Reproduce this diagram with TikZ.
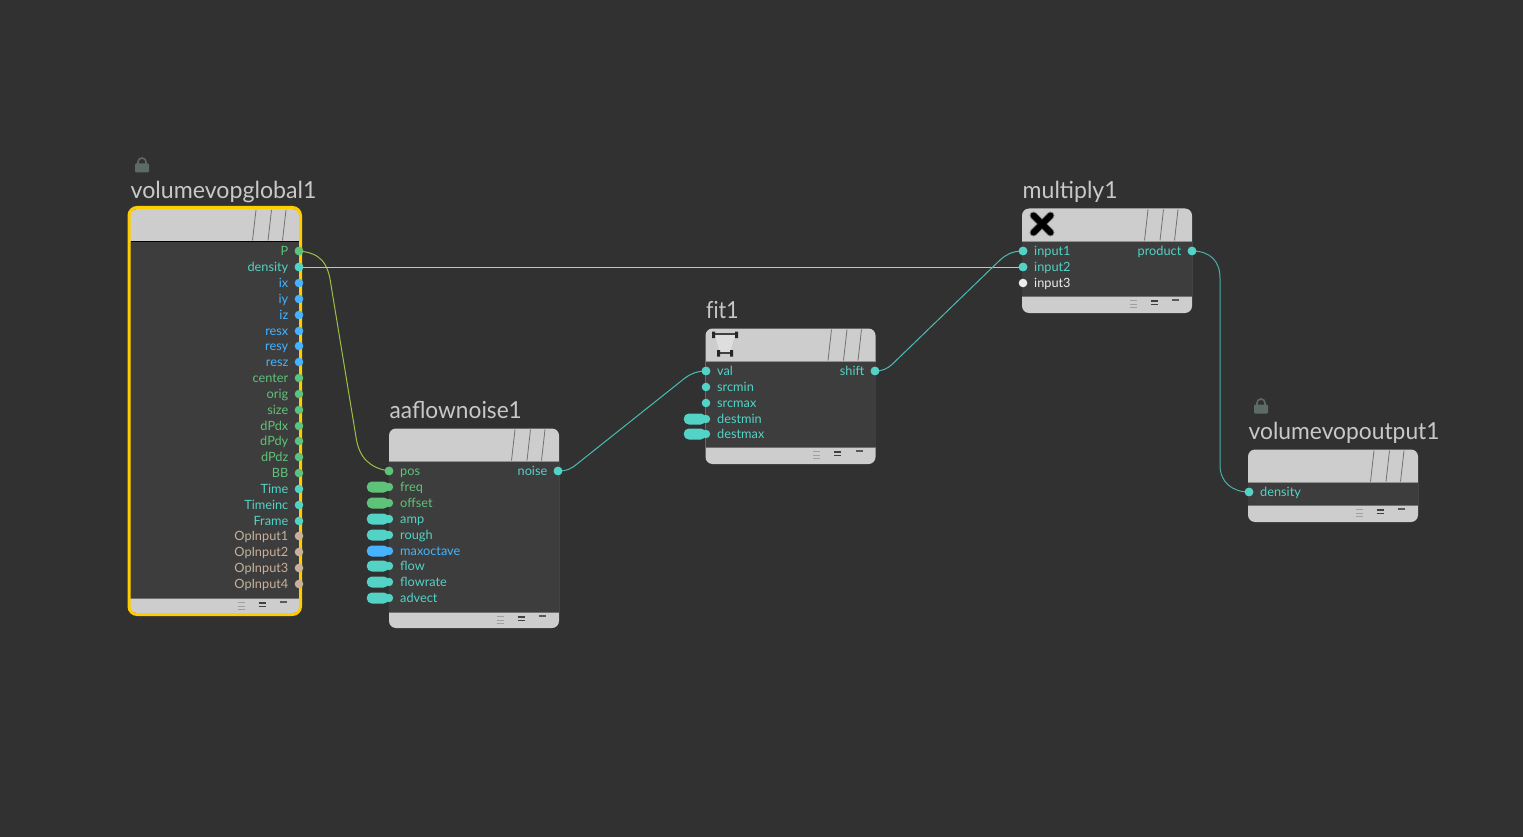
\documentclass[tikz,border=0pt]{standalone}
\usepackage{graphicx}
\usepackage{fontspec}
\setmainfont{Lato}
\usetikzlibrary{calc}
\definecolor{bgc}{HTML}{313131}
\definecolor{bodyc}{HTML}{3D3D3D}
\definecolor{hdrc}{HTML}{CDCDCD}
\definecolor{grn}{HTML}{5FC27A}
\definecolor{tea}{HTML}{53D2C6}
\definecolor{blu}{HTML}{45B3FF}
\definecolor{tanc}{HTML}{C8B09A}
\definecolor{wht}{HTML}{EDEDED}
\definecolor{lockc}{HTML}{5D6B68}
\definecolor{titlec}{HTML}{C8C8C8}
\definecolor{selc}{HTML}{FFCC00}
\definecolor{wireP}{HTML}{9CBF45}
\definecolor{wireD}{HTML}{A4DE80}
\definecolor{wireT}{HTML}{48BEB2}
\definecolor{wireU}{HTML}{48AFA5}
\definecolor{trap}{HTML}{DEDEDE}
\tikzset{
  vopshell/.style={rectangle,inner sep=0pt,rounded corners=7pt,fill=hdrc},
  slashline/.style={draw=black!45!hdrc,line width=0.8pt},
  wire/.style={line width=1pt},
  portdot/.style={circle,inner sep=0pt,minimum size=8.6pt},
  pill/.style={rectangle,rounded corners=5pt,inner sep=0pt,minimum width=22pt,minimum height=11pt},
  portlabel/.style={inner sep=0pt,font=\fontsize{12.75}{14}\selectfont},
  nodetitle/.style={inner sep=0pt,anchor=base west,text=titlec,font=\fontsize{23.5}{26}\selectfont},
}
\newcommand{\vop}[8]{% id x top hb ft bottom title hscale
  \pgfmathsetmacro{\xr}{#2+170}
  \pgfmathsetmacro{\xc}{#2+85}
  \pgfmathsetmacro{\yc}{(#3+#6)/2}
  \pgfmathsetmacro{\hh}{#6-#3}
  \node[vopshell,minimum width=170pt,minimum height=\hh pt] (#1) at (\xc,\yc) {};
  \fill[bodyc] (#2,#4) rectangle (\xr,#5);
  \draw[black!30!hdrc,line width=1pt] (#2,#4) -- (\xr,#4);
  \draw[black!45!hdrc,line width=0.6pt] (#2,#5) -- (\xr,#5);
  \foreach \oo in {0,15.5,30}{
    \pgfmathsetmacro{\sa}{#2+126+\oo}
    \pgfmathsetmacro{\sb}{#2+122.5+\oo}
    \draw[slashline] (\sa,#3+1) -- (\sb,#4-0.5);
  }
  \pgfmathsetmacro{\ia}{#2+107.5}\pgfmathsetmacro{\ib}{#2+114.5}
  \pgfmathsetmacro{\ic}{#2+128.5}\pgfmathsetmacro{\ie}{#2+135.5}
  \pgfmathsetmacro{\ig}{#2+150}\pgfmathsetmacro{\ih}{#2+157}
  \foreach \dd in {4.5,8,11.5}{\draw[black!22!hdrc,line width=1pt] (\ia,#5+\dd) -- (\ib,#5+\dd);}
  \foreach \dd in {5,8.5}{\draw[black!75,line width=1.1pt] (\ic,#5+\dd) -- (\ie,#5+\dd);}
  \draw[black!65,line width=1.3pt] (\ig,#5+4) -- (\ih,#5+4);
  \node[nodetitle] (#1-title) at (#2+0.5,#3-10) {\scalebox{#8}[1]{#7}};
}
\newcommand{\oport}[5]{% id x y colour label : output, label to the left
  \node[portdot,fill=#4] (#1) at (#2,#3) {};
  \node[portlabel,text=#4,anchor=base east] (#1-label) at ($(#1)+(-10.5,4.5)$) {#5};
}
\newcommand{\iport}[5]{% id x y colour label : input, label to the right
  \node[portdot,fill=#4] (#1) at (#2,#3) {};
  \node[portlabel,text=#4,anchor=base west] (#1-label) at ($(#1)+(11,4.5)$) {#5};
}
\newcommand{\pport}[5]{% pill input
  \node[pill,fill=#4,anchor=east] (#1) at (#2,#3) {};
  \fill[#4] (#2,#3) circle (4.2);
  \node[portlabel,text=#4,anchor=base west] (#1-label) at ($(#2,#3)+(11,4.5)$) {#5};
}
\newcommand{\lockicon}[3]{% id x y
  \draw[lockc,line width=1.6pt] (#2-4,#3+1) -- (#2-4,#3-3) arc (180:0:4 and -4) -- (#2+4,#3+1);
  \node[rectangle,rounded corners=1.2pt,inner sep=0pt,minimum width=14pt,minimum height=9pt,fill=lockc] (#1) at (#2,#3+3) {};
}
\begin{document}
\begin{tikzpicture}[x=1pt,y=-1pt]
\useasboundingbox (0,0) rectangle (1523,837);
\fill[bgc] (0,0) rectangle (1523,837);

\lockicon{lockA}{142}{165}
\lockicon{lockB}{1261}{406}

\vop{glob}{130}{209}{241}{598}{613}{volumevopglobal1}{0.985}
\vop{noise}{389}{428.5}{461}{612}{628}{aaflownoise1}{0.965}
\vop{fit}{705.5}{328.5}{361}{447}{464}{f\kern0pt it1}{0.9}
\vop{mult}{1022}{208.5}{241}{296}{313}{multiply1}{0.98}
\vop{out}{1248}{449.5}{482}{505}{522}{volumevopoutput1}{0.97}

% selection border
\draw[draw=selc,line width=3pt,rounded corners=8pt] (129,207.5) rectangle (300.5,614.5);
\draw[black,line width=1pt] (131,241) -- (299,241);

% global ports
\oport{gP}{299}{251}{grn}{P}
\oport{gdensity}{299}{267}{tea}{density}
\oport{gix}{299}{283}{blu}{ix}
\oport{giy}{299}{299}{blu}{iy}
\oport{giz}{299}{315}{blu}{iz}
\oport{gresx}{299}{331}{blu}{resx}
\oport{gresy}{299}{346}{blu}{resy}
\oport{gresz}{299}{362}{blu}{resz}
\oport{gcenter}{299}{378}{grn}{center}
\oport{gorig}{299}{394}{grn}{orig}
\oport{gsize}{299}{410}{grn}{size}
\oport{gdPdx}{299}{426}{grn}{dPdx}
\oport{gdPdy}{299}{441}{grn}{dPdy}
\oport{gdPdz}{299}{457}{grn}{dPdz}
\oport{gBB}{299}{473}{grn}{BB}
\oport{gTime}{299}{489}{tea}{Time}
\oport{gTimeinc}{299}{505}{tea}{Timeinc}
\oport{gFrame}{299}{521}{tea}{Frame}
\oport{gOpA}{299}{536}{tanc}{OpInput1}
\oport{gOpB}{299}{552}{tanc}{OpInput2}
\oport{gOpC}{299}{568}{tanc}{OpInput3}
\oport{gOpD}{299}{584}{tanc}{OpInput4}

% aaflownoise ports
\iport{npos}{389}{471}{grn}{pos}
\pport{nfreq}{389}{487}{grn}{freq}
\pport{noffset}{389}{503}{grn}{offset}
\pport{namp}{389}{519}{tea}{amp}
\pport{nrough}{389}{535}{tea}{rough}
\pport{nmaxoctave}{389}{551}{blu}{maxoctave}
\pport{nflow}{389}{566}{tea}{flow}
\pport{nflowrate}{389}{582}{tea}{flowrate}
\pport{nadvect}{389}{598}{tea}{advect}
\oport{nnoise}{558}{471}{tea}{noise}

% fit ports
\iport{fval}{706}{371}{tea}{val}
\iport{fsrcmin}{706}{387}{tea}{srcmin}
\iport{fsrcmax}{706}{403}{tea}{srcmax}
\pport{fdestmin}{706}{419}{tea}{destmin}
\pport{fdestmax}{706}{434}{tea}{destmax}
\oport{fshift}{875}{371}{tea}{shift}

% multiply ports
\iport{minputA}{1023}{251}{tea}{input1}
\iport{minputB}{1023}{267}{tea}{input2}
\iport{minputC}{1023}{283}{wht}{input3}
\oport{mproduct}{1192}{251}{tea}{product}

% output port
\iport{odensity}{1249}{492}{tea}{density}

% multiply icon
\begin{scope}[shift={(1042,224)},line cap=round]
  \draw[black!35!hdrc,line width=8pt] (-8.5,-8.5) -- (8.5,8.5) (8.5,-8.5) -- (-8.5,8.5);
  \draw[black,line width=6pt] (-8.5,-8.5) -- (8.5,8.5) (8.5,-8.5) -- (-8.5,8.5);
\end{scope}
% fit icon
\begin{scope}[shift={(725,344)}]
  \fill[trap] (-10,-9) -- (10,-9) -- (5,9) -- (-5,9) -- cycle;
  \draw[black!75,line width=1.2pt] (-11,-10) -- (11,-10) (-6.5,9) -- (6.5,9);
  \fill[black!85] (-13,-12.5) rectangle (-10,-6) (10,-12.5) rectangle (13,-6);
  \fill[black!85] (-8,6) rectangle (-5,12.5) (5,6) rectangle (8,12.5);
\end{scope}

% connectors
\coordinate (w1a) at (331,285);
\coordinate (w1b) at (356,437);
\coordinate (w2a) at (577,464);
\coordinate (w2b) at (685,378);
\coordinate (w3a) at (892,364.5);
\coordinate (w3b) at (998,262);
\coordinate (w4a) at (1220,278);
\coordinate (w4b) at (1220,465);
\draw[wire,draw=wireP] (gP.center) .. controls +(21,2) and +(-3,-23) .. (w1a) -- (w1b) .. controls +(3,21) and +(-19,-3) .. (npos.center);
\draw[wire,draw=wireD] (gdensity.center) -- (minputB.center);
\draw[wire,draw=wireT] (nnoise.center) .. controls +(10,0) and +(-5,4) .. (w2a) -- (w2b) .. controls +(7,-5) and +(-8,0) .. (fval.center);
\draw[wire,draw=wireT] (fshift.center) .. controls +(7,0) and +(-5,4.5) .. (w3a) -- (w3b) .. controls +(7,-7) and +(-11,0) .. (minputA.center);
\draw[wire,draw=wireU] (mproduct.center) .. controls +(18,0) and +(0,-17) .. (w4a) -- (w4b) .. controls +(0,17) and +(-17,0) .. (odensity.center);

% ports repainted over the wire ends
\foreach \pn/\pc in {gP/grn,gdensity/tea,npos/grn,nnoise/tea,fval/tea,fshift/tea,minputA/tea,minputB/tea,mproduct/tea,odensity/tea}{
  \fill[\pc] (\pn.center) circle (4.3);
}
\end{tikzpicture}
\end{document}
